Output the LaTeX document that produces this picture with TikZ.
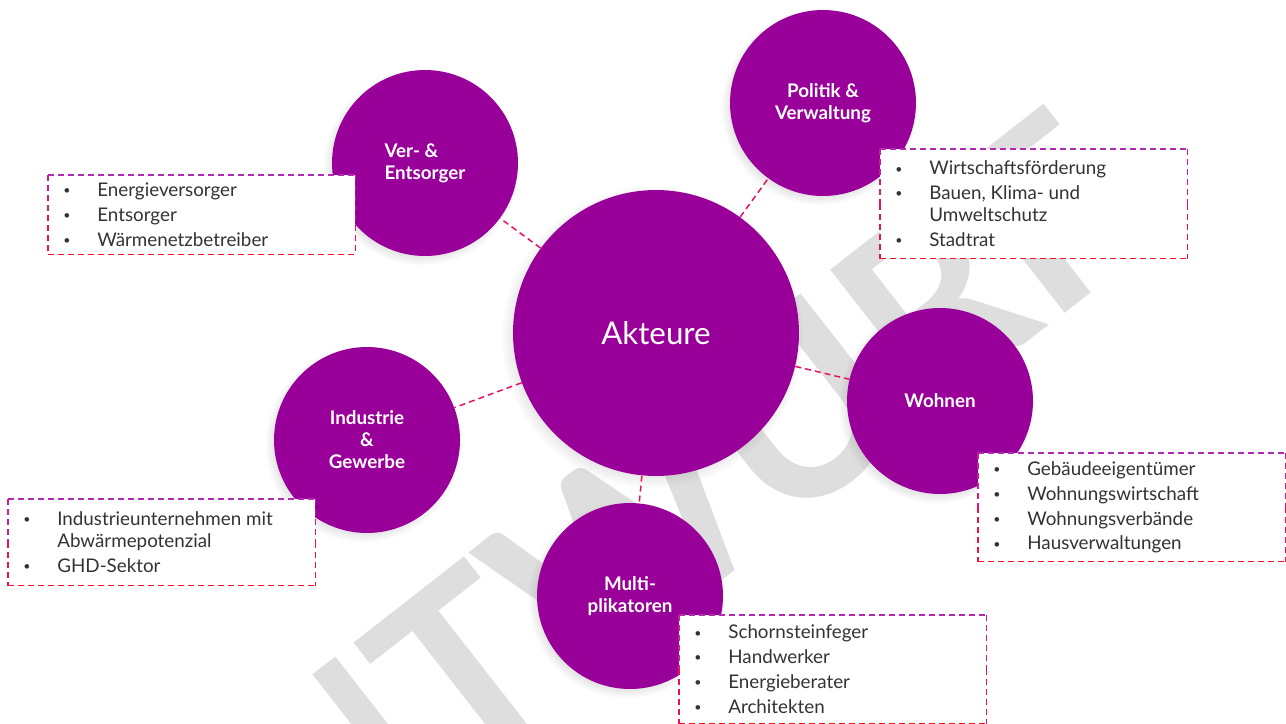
\documentclass[tikz,border=0pt]{standalone}
\usepackage{fontspec}
\setmainfont{Lato}
\usepackage{tikz}
\usetikzlibrary{positioning,shadows}

\definecolor{lila}{RGB}{153,0,153}
\definecolor{linkrot}{RGB}{232,16,100}
\definecolor{frametop}{RGB}{180,40,180}
\definecolor{framemid}{RGB}{228,20,120}
\definecolor{framebot}{RGB}{245,15,40}
\definecolor{schrift}{RGB}{51,51,51}
\definecolor{wasser}{RGB}{222,222,222}

\newcommand{\listpunkt}{\makebox[0.68cm][l]{\fontsize{7}{8}\selectfont\raisebox{1pt}{\textbullet}}}
\newcommand{\einzug}{\hspace*{0.68cm}}
% gestrichelter Rahmen, oben lila, unten rot
\newcommand{\rahmen}[1]{%
  \draw[rahmenlinie,frametop] (#1.north west) -- (#1.north east);
  \draw[rahmenlinie,framebot] (#1.south west) -- (#1.south east);
  \draw[rahmenlinie,frametop!45!framemid] (#1.north west) -- (#1.west);
  \draw[rahmenlinie,framemid!45!framebot] (#1.west) -- (#1.south west);
  \draw[rahmenlinie,frametop!45!framemid] (#1.north east) -- (#1.east);
  \draw[rahmenlinie,framemid!45!framebot] (#1.east) -- (#1.south east);}

\begin{document}
\begin{tikzpicture}[x=0.02cm,y=-0.02cm,
    actor/.style={circle,fill=lila,text=white,align=center,inner sep=0pt,
      minimum size=3.72cm,font=\bfseries\fontsize{10.7}{12.5}\selectfont,
      circular drop shadow={shadow xshift=-2pt,shadow yshift=-2pt,
        shadow scale=1.06,opacity=.3}},
    liste/.style={anchor=north west,fill=white,text=schrift,align=flush left,
      minimum width=6.14cm,text width=5.54cm,inner xsep=0.3cm,inner ysep=0pt,
      font=\fontsize{10.7}{12.5}\selectfont},
    rahmenlinie/.style={line width=0.85pt,dash pattern=on 3.4pt off 2.3pt},
    link/.style={linkrot,line width=0.85pt,dash pattern=on 3.4pt off 2.3pt}]
  \useasboundingbox (0,0) rectangle (1286,724);

  % Wasserzeichen
  \begin{scope}
    \clip (0,0) rectangle (1286,724);
    \node[text=wasser,rotate=38,font=\bfseries\fontsize{140}{140}\selectfont]
      (entwurf) at (625,545) {ENTWURF};
  \end{scope}

  % Kreise
  \node[actor,minimum size=5.72cm,font=\fontsize{17.8}{20}\selectfont]
    (akt) at (656,333) {Akteure};
  \node[actor,align=left] (ver) at (425,163) {Ver- \&\\Entsorger};
  \node[actor] (pol) at (823,103) {Politik \&\\Verwaltung};
  \node[actor] (wohn) at (940,401) {Wohnen};
  \node[actor] (ind) at (367,440) {Industrie\\\&\\Gewerbe};
  \node[actor] (multi) at (630,596) {Multi-\\plikatoren};

  \path[link] (akt) edge (ver) edge (pol) edge (wohn) edge (ind) edge (multi);

  % Listen
  \node[liste,minimum height=1.58cm] (verliste) at (48,175) {%
    \listpunkt Energieversorger\\[1.7pt]
    \listpunkt Entsorger\\[1.7pt]
    \listpunkt Wärmenetzbetreiber};
  \node[liste,minimum height=2.18cm] (polliste) at (880,149) {%
    \listpunkt Wirtschaftsförderung\\[1.7pt]
    \listpunkt Bauen, Klima- und\\
    \einzug Umweltschutz\\[1.7pt]
    \listpunkt Stadtrat};
  \node[liste,minimum height=1.72cm] (indliste) at (8,499) {%
    \listpunkt Industrieunternehmen mit\\
    \einzug Abwärmepotenzial\\[1.7pt]
    \listpunkt GHD-Sektor};
  \node[liste,minimum height=2.16cm] (wohnliste) at (978,453) {%
    \listpunkt Gebäudeeigentümer\\[1.7pt]
    \listpunkt Wohnungswirtschaft\\[1.7pt]
    \listpunkt Wohnungsverbände\\[1.7pt]
    \listpunkt Hausverwaltungen};
  \node[liste,minimum height=2.16cm] (multiliste) at (679,615) {%
    \listpunkt Schornsteinfeger\\[1.7pt]
    \listpunkt Handwerker\\[1.7pt]
    \listpunkt Energieberater\\[1.7pt]
    \listpunkt Architekten};

  \foreach \l in {verliste,polliste,indliste,wohnliste,multiliste}
    {\rahmen{\l}}
\end{tikzpicture}
\end{document}
